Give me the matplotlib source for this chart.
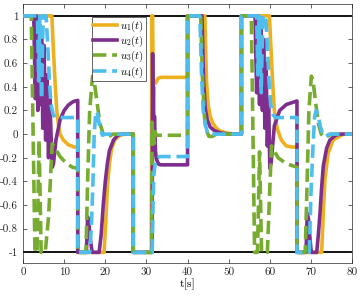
import matplotlib
matplotlib.use("Agg")
import matplotlib.pyplot as plt

plt.rcParams['font.family'] = ['cmr10', 'DejaVu Serif']
plt.rcParams['mathtext.fontset'] = 'cm'
plt.rcParams['axes.unicode_minus'] = False

# control inputs (breakpoints, t in s)
u1_t = [0, 7.0, 7.4, 7.8, 8.2, 8.6, 9.0, 9.8, 11.0, 12.5, 13.3, 13.3,
        19.7, 20.1, 20.5, 21.0, 21.5, 22.3, 23.5, 25.0, 26.8, 26.8,
        31.2, 31.3, 31.5, 31.65, 32.2, 32.8, 33.5, 40.0, 40.0,
        44.2, 44.6, 45.0, 45.5, 46.2, 47.0, 48.0, 49.5, 51.0, 53.1, 53.1,
        59.9, 60.3, 60.7, 61.1, 61.5, 61.9, 62.8, 64.0, 65.5, 66.6, 66.6,
        72.6, 73.0, 73.4, 74.2, 75.4, 77.9, 80]
u1_v = [1, 1, 0.7, 0.43, 0.2, 0.08, 0.0, -0.05, -0.09, -0.11, -0.11, -1,
        -1, -0.75, -0.45, -0.25, -0.13, -0.05, -0.01, 0, 0, -1,
        -1, 1, 1, 0.45, 0.43, 0.47, 0.48, 0.48, 1,
        1, 0.45, 0.25, 0.15, 0.09, 0.05, 0.025, 0.01, 0, 0, 1,
        1, 0.71, 0.43, 0.2, 0.1, 0.035, -0.05, -0.1, -0.11, -0.11, -1,
        -1, -0.67, -0.38, -0.16, -0.05, 0, 0]

u2_t = [0, 2.6, 3.0, 3.2, 3.6, 3.9, 4.2, 4.5, 4.8, 5.1, 5.5, 5.8, 6.2, 6.5,
        7.1, 7.4, 8.0, 9.0, 10.0, 11.0, 12.2, 13.3, 13.3,
        15.4, 15.7, 16.0, 16.4, 16.8, 18.5, 19.0, 19.5, 20.0, 20.5, 21.0,
        22.0, 23.0, 24.0, 26.8, 26.8,
        31.4, 31.5, 31.6, 31.7, 31.8, 31.95, 32.2, 32.5, 33.0, 33.5, 40.0, 40.0,
        43.5, 43.9, 44.3, 44.8, 45.5, 46.5, 48.0, 50.0, 53.1, 53.1,
        56.4, 56.8, 57.1, 57.5, 57.8, 58.2, 58.5, 58.8, 59.1, 59.4, 59.7,
        60.0, 60.3, 61.1, 62.4, 64.0, 66.6, 66.6,
        68.8, 69.1, 69.4, 69.8, 70.1, 71.4, 71.8, 72.2, 72.6, 73.0, 73.8,
        74.6, 76.0, 77.0, 80]
u2_v = [1, 1, 0.3, 1, 0.2, 0.95, 0.25, 0.9, 0.05, 0.75, -0.05, 0.5, -0.2, 0.3,
        -0.28, -0.25, -0.05, 0.12, 0.2, 0.245, 0.275, 0.285, -1,
        -1, -0.7, -0.75, -0.9, -1, -1, -0.85, -0.6, -0.4, -0.25, -0.14,
        -0.05, -0.01, 0, 0, -1,
        -1, 0.68, 0.1, 0.4, -0.05, 0.15, -0.15, -0.22, -0.255, -0.26, -0.26, 1,
        1, 0.45, 0.22, 0.12, 0.06, 0.03, 0.01, 0, 0, 1,
        1, 0.35, 1, 0.25, 0.95, 0.2, 0.8, 0.05, 0.6, -0.1, 0.3,
        -0.29, -0.25, 0.07, 0.2, 0.25, 0.28, -1,
        -1, -0.67, -0.72, -0.9, -1, -1, -0.85, -0.67, -0.45, -0.27, -0.12,
        -0.05, -0.01, 0, 0]

u3_t = [0, 2.0, 2.9, 3.4, 3.9, 4.4, 5.4, 6.2, 7.1, 8.0, 9.0, 10.6, 12.0,
        13.3, 13.3,
        15.3, 15.7, 16.2, 16.9, 17.3, 17.9, 18.7, 19.5, 20.3, 21.9, 26.8, 26.8,
        31.25, 31.35, 31.5, 31.7, 31.9, 32.1, 32.4, 40.0, 40.0,
        43.2, 43.6, 44.1, 44.6, 45.2, 46.0, 47.0, 53.1, 53.1,
        55.5, 56.3, 57.0, 57.5, 58.0, 59.4, 60.4, 62.0, 64.0, 66.6, 66.6,
        68.6, 69.0, 69.5, 70.1, 70.5, 71.1, 71.8, 72.5, 73.3, 75.0, 80]
u3_v = [1, 1, -1, -1, -0.05, -1, -1, -0.7, -0.08, -0.13, -0.19, -0.25, -0.28,
        -0.29, -1,
        -1, -0.4, 0.2, 0.49, 0.45, 0.29, 0.09, 0.0, -0.03, 0, 0, -1,
        -1, 0.1, -0.05, 0.05, -0.08, 0.02, -0.01, -0.01, 1,
        1, 0.5, 0.15, 0.03, -0.02, -0.02, 0, 0, 1,
        1, -1, -1, -0.15, -1, -1, -0.1, -0.2, -0.25, -0.28, -1,
        -1, -0.5, 0.2, 0.49, 0.45, 0.28, 0.09, 0.0, -0.03, 0, 0]

u4_t = [0, 3.5, 3.8, 4.1, 4.5, 4.9, 5.6, 6.0, 6.4, 6.8, 7.3, 7.8, 13.3, 13.3,
        16.2, 16.6, 17.0, 17.3, 17.7, 18.1, 18.7, 19.3, 20.0, 26.8, 26.8,
        31.4, 31.6, 31.8, 32.1, 32.6, 33.3, 40.0, 40.0,
        43.0, 43.4, 43.8, 44.3, 44.8, 45.4, 46.5, 53.1, 53.1,
        56.8, 57.1, 57.4, 57.9, 58.3, 59.0, 59.4, 59.8, 60.2, 60.7, 61.3,
        66.6, 66.6,
        69.6, 70.0, 70.5, 70.9, 71.3, 71.8, 72.3, 72.9, 73.5, 74.5, 80]
u4_v = [1, 1, 0.45, 1, 0.3, 1, 1, 0.75, 0.45, 0.25, 0.17, 0.14, 0.14, -1,
        -1, -0.8, -0.4, 0.0, 0.19, 0.17, 0.05, -0.01, 0, 0, -1,
        -1, -0.6, -0.35, -0.25, -0.2, -0.19, -0.19, 1,
        1, 0.5, 0.2, 0.08, 0.02, -0.005, 0, 0, 1,
        1, 0.5, 1, 0.35, 1, 1, 0.75, 0.45, 0.25, 0.17, 0.14,
        0.14, -1,
        -1, -0.5, -0.1, 0.15, 0.2, 0.15, 0.06, 0.0, -0.02, 0, 0]

labels = ['$u_1(t)$', '$u_2(t)$', '$u_3(t)$', '$u_4(t)$']
colors = ['#EDB120', '#7E2F8E', '#77AC30', '#4DBEEE']
u_limits = [-1, 1]
xticks = [0, 10, 20, 30, 40, 50, 60, 70, 80]
yticks = [-1, -0.8, -0.6, -0.4, -0.2, 0, 0.2, 0.4, 0.6, 0.8, 1]
ytick_labels = ['-1', '-0.8', '-0.6', '-0.4', '-0.2', '0', '0.2', '0.4', '0.6', '0.8', '1']

fig = plt.figure(figsize=(3.6, 2.97), dpi=100)
ax = fig.add_axes([0.064, 0.1145, 0.914, 0.872])

for lim in u_limits:
    ax.axhline(lim, color='k', lw=1.3, zorder=1)

ax.plot(u1_t, u1_v, color=colors[0], lw=2.6, label=labels[0], zorder=2)
ax.plot(u2_t, u2_v, color=colors[1], lw=2.6, label=labels[1], zorder=3)
ax.plot(u3_t, u3_v, color=colors[2], lw=2.6, ls='--', label=labels[2], zorder=4)
ax.plot(u4_t, u4_v, color=colors[3], lw=2.6, ls='--', label=labels[3], zorder=5)

ax.set_xlim(0, 80)
ax.set_ylim(-1.09, 1.1)
ax.set_xticks(xticks, labels=[str(x) for x in xticks])
ax.set_yticks(yticks, labels=ytick_labels)
ax.tick_params(direction='in', top=True, right=True, length=3, width=0.5,
               labelsize=8, pad=3.5, colors='#262626')
for sp in ax.spines.values():
    sp.set_linewidth(0.5)
    sp.set_color('#262626')
ax.set_xlabel('t[s]', fontsize=8.5, labelpad=1)

leg = ax.legend(loc='upper left', bbox_to_anchor=(0.209, 0.95), borderaxespad=0,
                fontsize=7.8, handlelength=2.2, labelspacing=0.0, borderpad=0.15,
                handletextpad=0.25, fancybox=False, framealpha=1,
                edgecolor='#262626')
leg.get_frame().set_linewidth(0.5)

fig.savefig('out.png', dpi=100)
